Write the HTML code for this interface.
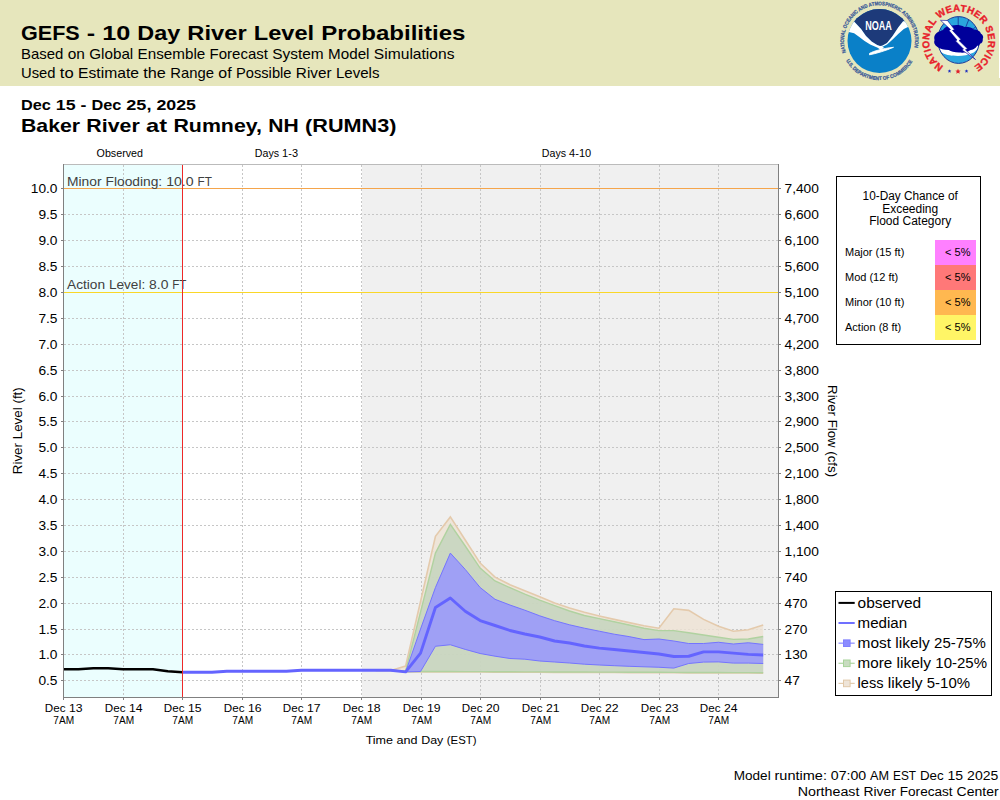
<!DOCTYPE html>
<html><head><meta charset="utf-8"><title>GEFS - 10 Day River Level Probabilities</title>
<style>html,body{margin:0;padding:0;background:#fff;} svg{display:block;} text{font-family:"Liberation Sans", sans-serif;}</style></head>
<body><svg width="1000" height="800" viewBox="0 0 1000 800">
<rect x="0" y="0" width="1000" height="86" fill="#E6E6BC"/>
<rect x="999" y="0" width="1" height="78" fill="#fff"/>
<text x="21.00" y="40.00" font-size="20.5" font-weight="bold" fill="#000" textLength="58.75" lengthAdjust="spacingAndGlyphs">GEFS</text>
<text x="86.79" y="40.00" font-size="20.5" font-weight="bold" fill="#000" textLength="8.39" lengthAdjust="spacingAndGlyphs">-</text>
<text x="102.21" y="40.00" font-size="20.5" font-weight="bold" fill="#000" textLength="28.12" lengthAdjust="spacingAndGlyphs">10</text>
<text x="137.37" y="40.00" font-size="20.5" font-weight="bold" fill="#000" textLength="42.97" lengthAdjust="spacingAndGlyphs">Day</text>
<text x="187.37" y="40.00" font-size="20.5" font-weight="bold" fill="#000" textLength="59.34" lengthAdjust="spacingAndGlyphs">River</text>
<text x="253.74" y="40.00" font-size="20.5" font-weight="bold" fill="#000" textLength="60.39" lengthAdjust="spacingAndGlyphs">Level</text>
<text x="321.16" y="40.00" font-size="20.5" font-weight="bold" fill="#000" textLength="144.34" lengthAdjust="spacingAndGlyphs">Probabilities</text>
<text x="21.00" y="59.00" font-size="14.2" font-weight="normal" fill="#000" textLength="42.32" lengthAdjust="spacingAndGlyphs">Based</text>
<text x="67.70" y="59.00" font-size="14.2" font-weight="normal" fill="#000" textLength="17.17" lengthAdjust="spacingAndGlyphs">on</text>
<text x="89.26" y="59.00" font-size="14.2" font-weight="normal" fill="#000" textLength="43.98" lengthAdjust="spacingAndGlyphs">Global</text>
<text x="137.62" y="59.00" font-size="14.2" font-weight="normal" fill="#000" textLength="67.61" lengthAdjust="spacingAndGlyphs">Ensemble</text>
<text x="209.60" y="59.00" font-size="14.2" font-weight="normal" fill="#000" textLength="58.33" lengthAdjust="spacingAndGlyphs">Forecast</text>
<text x="272.32" y="59.00" font-size="14.2" font-weight="normal" fill="#000" textLength="51.41" lengthAdjust="spacingAndGlyphs">System</text>
<text x="328.11" y="59.00" font-size="14.2" font-weight="normal" fill="#000" textLength="41.39" lengthAdjust="spacingAndGlyphs">Model</text>
<text x="373.89" y="59.00" font-size="14.2" font-weight="normal" fill="#000" textLength="80.61" lengthAdjust="spacingAndGlyphs">Simulations</text>
<text x="21.00" y="78.00" font-size="14.2" font-weight="normal" fill="#000" textLength="34.49" lengthAdjust="spacingAndGlyphs">Used</text>
<text x="59.87" y="78.00" font-size="14.2" font-weight="normal" fill="#000" textLength="13.83" lengthAdjust="spacingAndGlyphs">to</text>
<text x="78.08" y="78.00" font-size="14.2" font-weight="normal" fill="#000" textLength="60.86" lengthAdjust="spacingAndGlyphs">Estimate</text>
<text x="143.31" y="78.00" font-size="14.2" font-weight="normal" fill="#000" textLength="22.61" lengthAdjust="spacingAndGlyphs">the</text>
<text x="170.30" y="78.00" font-size="14.2" font-weight="normal" fill="#000" textLength="43.67" lengthAdjust="spacingAndGlyphs">Range</text>
<text x="218.35" y="78.00" font-size="14.2" font-weight="normal" fill="#000" textLength="13.28" lengthAdjust="spacingAndGlyphs">of</text>
<text x="236.01" y="78.00" font-size="14.2" font-weight="normal" fill="#000" textLength="55.48" lengthAdjust="spacingAndGlyphs">Possible</text>
<text x="295.87" y="78.00" font-size="14.2" font-weight="normal" fill="#000" textLength="35.70" lengthAdjust="spacingAndGlyphs">River</text>
<text x="335.95" y="78.00" font-size="14.2" font-weight="normal" fill="#000" textLength="43.55" lengthAdjust="spacingAndGlyphs">Levels</text>
<text x="21.00" y="110.00" font-size="14" font-weight="bold" fill="#000" textLength="29.89" lengthAdjust="spacingAndGlyphs">Dec</text>
<text x="55.84" y="110.00" font-size="14" font-weight="bold" fill="#000" textLength="19.79" lengthAdjust="spacingAndGlyphs">15</text>
<text x="80.58" y="110.00" font-size="14" font-weight="bold" fill="#000" textLength="5.90" lengthAdjust="spacingAndGlyphs">-</text>
<text x="91.43" y="110.00" font-size="14" font-weight="bold" fill="#000" textLength="29.89" lengthAdjust="spacingAndGlyphs">Dec</text>
<text x="126.27" y="110.00" font-size="14" font-weight="bold" fill="#000" textLength="25.19" lengthAdjust="spacingAndGlyphs">25,</text>
<text x="156.42" y="110.00" font-size="14" font-weight="bold" fill="#000" textLength="39.58" lengthAdjust="spacingAndGlyphs">2025</text>
<text x="21.00" y="132.00" font-size="18.5" font-weight="bold" fill="#000" textLength="59.06" lengthAdjust="spacingAndGlyphs">Baker</text>
<text x="86.39" y="132.00" font-size="18.5" font-weight="bold" fill="#000" textLength="53.41" lengthAdjust="spacingAndGlyphs">River</text>
<text x="146.14" y="132.00" font-size="18.5" font-weight="bold" fill="#000" textLength="20.97" lengthAdjust="spacingAndGlyphs">at</text>
<text x="173.44" y="132.00" font-size="18.5" font-weight="bold" fill="#000" textLength="88.56" lengthAdjust="spacingAndGlyphs">Rumney,</text>
<text x="268.33" y="132.00" font-size="18.5" font-weight="bold" fill="#000" textLength="30.45" lengthAdjust="spacingAndGlyphs">NH</text>
<text x="305.11" y="132.00" font-size="18.5" font-weight="bold" fill="#000" textLength="91.39" lengthAdjust="spacingAndGlyphs">(RUMN3)</text>
<defs>
<path id="noaaTop" d="M846.0,52.5 A35.5,35.5 0 1 1 913.0,52.5"/>
<path id="noaaBot" d="M843.8,56 A38.5,38.5 0 0 0 915.2,56"/>
<path id="nwsArc" d="M943.5,66.3 A29.5,29.5 0 1 1 973.45,66.55"/>
<clipPath id="noaaClip"><circle cx="879.5" cy="41" r="32"/></clipPath>
<clipPath id="nwsClip"><ellipse cx="958.6" cy="40" rx="20.8" ry="23.4"/></clipPath>
</defs>
<g id="noaa">
<g clip-path="url(#noaaClip)">
<rect x="845" y="5" width="70" height="72" fill="#0A80C8"/>
<path d="M845,5 H915 V21.3 L903.1,21.3 L898.2,27.6 L892.6,36 L887,43 L882.1,45.8 L880,46 L877.2,45.1 L871.6,41.6 L866,36 L861.1,29 L854.1,21.6 L845,21.6 Z" fill="#1D3A7A"/>
<path d="M845,21.6 L854.1,21.6 L861.1,29 L866,36 L871.6,41.6 L877.2,45.1 L880,46 L882.1,45.8 L887,43 L892.6,36 L898.2,27.6 L903.1,21.3 L915,21.3 L915,24 L908,26.9 L903.8,29 L898.2,33.9 L892.6,39.5 L887,44.4 L880,47.9 L876.5,47.2 L870.2,44.4 L864.6,40.9 L859,36.7 L854.1,33.2 L847.8,31.8 L845,31.5 Z" fill="#FFFFFF"/>
<path d="M869.5,53.4 C874,51 882,48.6 893.5,47.3 C886,50.6 876,53.6 869.5,54.8 Z" fill="#FFFFFF" stroke="#FFFFFF" stroke-width="0.9" stroke-linejoin="round"/>
<path d="M877,47 L881,50.5 L884,47 Z" fill="#FFFFFF"/>
</g>
<text font-size="12.5" font-weight="bold" fill="#fff" text-anchor="middle" x="878.6" y="29.7" textLength="26.6" lengthAdjust="spacingAndGlyphs">NOAA</text>
<text font-size="5.2" font-weight="bold" fill="#3A5A98" stroke="#3A5A98" stroke-width="0.25"><textPath href="#noaaTop" textLength="130" lengthAdjust="spacingAndGlyphs">NATIONAL OCEANIC AND ATMOSPHERIC ADMINISTRATION</textPath></text>
<text font-size="5.2" font-weight="bold" fill="#3A5A98" stroke="#3A5A98" stroke-width="0.25"><textPath href="#noaaBot" startOffset="5" textLength="80" lengthAdjust="spacingAndGlyphs">U.S. DEPARTMENT OF COMMERCE</textPath></text>
</g>
<g id="nws">
<ellipse cx="958.6" cy="40" rx="20.8" ry="23.4" fill="#2AA6DE"/>
<g clip-path="url(#nwsClip)">
<path d="M958.2,16 V26 M968.8,19.5 L966,26.5 M976,26.5 L971.5,30.5 M941,30 L946,31.5 M947.5,21 L950,28" stroke="#1A3A9A" stroke-width="0.9" fill="none"/>
<path d="M936,46 C938,52 946,56 953,55.6 C958,56.5 967,56 973.75,52.5 C977,50 979,47 980,44 L980,40 L936,40 Z" fill="#FFFFFF"/>
</g>
<ellipse cx="958.6" cy="40" rx="20.8" ry="23.4" fill="none" stroke="#1A3A9A" stroke-width="1"/>
<path d="M934.5,40 C933,35 937,31.5 942.5,30.6 C945,26.5 949,25 952,25.6 C956,24.5 961,25 964.4,26.9 C968,26.5 972,27.5 973.75,29.4 C977,29.5 980.5,31 981,33.75 C983.5,35 983.5,38 982.8,38.75 C983,41.5 982,43.5 980,43.75 C979,46 978,46.5 977.5,45.5 C975,49 972.5,50 970.6,50 C967,52.5 963,53 961,52.5 C956,53 951,51.5 948.75,50 C944,50 940,48.5 937.5,46.9 C934.5,45.5 933.5,42.5 934.5,40 Z" fill="#00009A"/>
<path d="M940.5,20.3 L947.5,20.5 L954.5,29.5 L952.5,30.5 L961,39.5 L959,40.5 L967.5,48.8 L965.5,49.8 L975.5,59.5 L962,50 L963.5,49 L955.5,41 L957,40 L949,30.5 L950.5,29.5 Z" fill="#FFFFFF" stroke="#00009A" stroke-width="0.6" stroke-linejoin="miter"/>
<text font-size="9.8" font-weight="bold" fill="#E8202A" stroke="#E8202A" stroke-width="0.35"><textPath href="#nwsArc" textLength="153" lengthAdjust="spacing">NATIONAL WEATHER SERVICE</textPath></text>
<path d="M949.5,69.3 l0.55,1.2 1.3,0.1 -1,0.85 0.3,1.3 -1.15,-0.7 -1.15,0.7 0.3,-1.3 -1,-0.85 1.3,-0.1 z" fill="#2030C0"/>
<path d="M966.5,69.3 l0.55,1.2 1.3,0.1 -1,0.85 0.3,1.3 -1.15,-0.7 -1.15,0.7 0.3,-1.3 -1,-0.85 1.3,-0.1 z" fill="#2030C0"/>
<path d="M958,68.8 l0.8,1.7 1.9,0.15 -1.45,1.2 0.45,1.85 -1.7,-1 -1.7,1 0.45,-1.85 -1.45,-1.2 1.9,-0.15 z" fill="#E0202A"/>
</g>

<rect x="63" y="164" width="119" height="533" fill="#EBFEFE"/>
<rect x="182" y="164" width="180" height="533" fill="#FFFFFF"/>
<rect x="362" y="164" width="416" height="533" fill="#F0F0F0"/>
<path d="M123.5,165V697M182.5,165V697M242.5,165V697M301.5,165V697M361.5,165V697M421.5,165V697M480.5,165V697M540.5,165V697M599.5,165V697M659.5,165V697M718.5,165V697M64,188.5H778M64,214.5H778M64,240.5H778M64,266.5H778M64,292.5H778M64,318.5H778M64,344.5H778M64,370.5H778M64,396.5H778M64,421.5H778M64,447.5H778M64,473.5H778M64,499.5H778M64,525.5H778M64,551.5H778M64,577.5H778M64,603.5H778M64,629.5H778M64,654.5H778M64,680.5H778" stroke="#C6C6C6" stroke-width="1" stroke-dasharray="2,2" fill="none"/>
<polygon points="375.85,670.50 390.75,670.50 405.64,666.00 420.54,601.50 435.44,536.25 450.34,516.90 465.23,540.00 480.13,563.10 495.03,577.20 509.93,584.70 524.82,590.70 539.72,596.70 554.62,603.00 569.52,608.00 584.41,612.30 599.31,616.00 614.21,619.40 629.11,622.60 644.00,625.80 658.90,628.20 673.80,608.80 688.70,610.40 703.59,619.40 718.49,626.25 733.39,631.25 748.29,629.75 763.18,625.00 763.18,673.10 748.29,673.05 733.39,672.99 718.49,672.94 703.59,672.88 688.70,672.83 673.80,672.77 658.90,672.72 644.00,672.66 629.11,672.61 614.21,672.55 599.31,672.50 584.41,672.45 569.52,672.39 554.62,672.34 539.72,672.28 524.82,672.23 509.93,672.17 495.03,672.12 480.13,672.06 465.23,672.01 450.34,671.95 435.44,671.90 420.54,672.00 405.64,671.90 390.75,670.50 375.85,670.50" fill="#EEE2D3" fill-opacity="0.8" stroke="none"/>
<polyline points="375.85,670.50 390.75,670.50 405.64,666.00 420.54,601.50 435.44,536.25 450.34,516.90 465.23,540.00 480.13,563.10 495.03,577.20 509.93,584.70 524.82,590.70 539.72,596.70 554.62,603.00 569.52,608.00 584.41,612.30 599.31,616.00 614.21,619.40 629.11,622.60 644.00,625.80 658.90,628.20 673.80,608.80 688.70,610.40 703.59,619.40 718.49,626.25 733.39,631.25 748.29,629.75 763.18,625.00" fill="none" stroke="#E4CAAC" stroke-width="1.6"/>
<polyline points="375.85,670.50 390.75,670.50 405.64,671.90 420.54,672.00 435.44,671.90 450.34,671.95 465.23,672.01 480.13,672.06 495.03,672.12 509.93,672.17 524.82,672.23 539.72,672.28 554.62,672.34 569.52,672.39 584.41,672.45 599.31,672.50 614.21,672.55 629.11,672.61 644.00,672.66 658.90,672.72 673.80,672.77 688.70,672.83 703.59,672.88 718.49,672.94 733.39,672.99 748.29,673.05 763.18,673.10" fill="none" stroke="#E4CAAC" stroke-width="1.6"/>
<polygon points="390.75,670.50 405.64,671.00 420.54,612.00 435.44,553.10 450.34,524.40 465.23,546.00 480.13,568.10 495.03,581.00 509.93,587.70 524.82,594.20 539.72,600.20 554.62,605.70 569.52,611.00 584.41,615.50 599.31,618.60 614.21,621.80 629.11,625.00 644.00,628.20 658.90,630.60 673.80,630.60 688.70,632.80 703.59,635.00 718.49,637.25 733.39,639.40 748.29,639.00 763.18,636.50 763.18,672.70 748.29,672.65 733.39,672.59 718.49,672.54 703.59,672.48 688.70,672.43 673.80,672.37 658.90,672.32 644.00,672.26 629.11,672.21 614.21,672.15 599.31,672.10 584.41,672.05 569.52,671.99 554.62,671.94 539.72,671.88 524.82,671.83 509.93,671.77 495.03,671.72 480.13,671.66 465.23,671.61 450.34,671.55 435.44,671.50 420.54,671.50 405.64,671.50 390.75,670.50" fill="#BFD2B9" fill-opacity="0.75" stroke="none"/>
<polyline points="390.75,670.50 405.64,671.00 420.54,612.00 435.44,553.10 450.34,524.40 465.23,546.00 480.13,568.10 495.03,581.00 509.93,587.70 524.82,594.20 539.72,600.20 554.62,605.70 569.52,611.00 584.41,615.50 599.31,618.60 614.21,621.80 629.11,625.00 644.00,628.20 658.90,630.60 673.80,630.60 688.70,632.80 703.59,635.00 718.49,637.25 733.39,639.40 748.29,639.00 763.18,636.50" fill="none" stroke="#B0D2A0" stroke-width="1.4"/>
<polyline points="390.75,670.50 405.64,671.50 420.54,671.50 435.44,671.50 450.34,671.55 465.23,671.61 480.13,671.66 495.03,671.72 509.93,671.77 524.82,671.83 539.72,671.88 554.62,671.94 569.52,671.99 584.41,672.05 599.31,672.10 614.21,672.15 629.11,672.21 644.00,672.26 658.90,672.32 673.80,672.37 688.70,672.43 703.59,672.48 718.49,672.54 733.39,672.59 748.29,672.65 763.18,672.70" fill="none" stroke="#B0D2A0" stroke-width="1.4"/>
<polygon points="405.64,671.90 420.54,629.00 435.44,587.50 450.34,553.10 465.23,569.40 480.13,587.50 495.03,599.30 509.93,605.00 524.82,610.20 539.72,615.80 554.62,620.70 569.52,624.80 584.41,628.20 599.31,631.20 614.21,634.20 629.11,636.60 644.00,639.60 658.90,639.00 673.80,641.00 688.70,643.50 703.59,643.50 718.49,642.25 733.39,644.00 748.29,642.75 763.18,644.40 763.18,663.50 748.29,663.10 733.39,663.10 718.49,661.90 703.59,662.10 688.70,663.50 673.80,668.10 658.90,667.25 644.00,666.80 629.11,666.30 614.21,665.70 599.31,665.00 584.41,664.20 569.52,663.00 554.62,662.00 539.72,661.00 524.82,659.20 509.93,658.50 495.03,656.20 480.13,653.50 465.23,649.40 450.34,644.75 435.44,646.25 420.54,671.50 405.64,671.90" fill="#9896FE" fill-opacity="0.85" stroke="none"/>
<polyline points="405.64,671.90 420.54,629.00 435.44,587.50 450.34,553.10 465.23,569.40 480.13,587.50 495.03,599.30 509.93,605.00 524.82,610.20 539.72,615.80 554.62,620.70 569.52,624.80 584.41,628.20 599.31,631.20 614.21,634.20 629.11,636.60 644.00,639.60 658.90,639.00 673.80,641.00 688.70,643.50 703.59,643.50 718.49,642.25 733.39,644.00 748.29,642.75 763.18,644.40" fill="none" stroke="#7474FF" stroke-width="1.0"/>
<polyline points="405.64,671.90 420.54,671.50 435.44,646.25 450.34,644.75 465.23,649.40 480.13,653.50 495.03,656.20 509.93,658.50 524.82,659.20 539.72,661.00 554.62,662.00 569.52,663.00 584.41,664.20 599.31,665.00 614.21,665.70 629.11,666.30 644.00,666.80 658.90,667.25 673.80,668.10 688.70,663.50 703.59,662.10 718.49,661.90 733.39,663.10 748.29,663.10 763.18,663.50" fill="none" stroke="#7474FF" stroke-width="1.0"/>
<polyline points="182.18,672.30 197.08,672.30 211.98,672.30 226.87,671.20 241.77,671.20 256.67,671.20 271.56,671.20 286.46,671.20 301.36,670.30 316.26,670.30 331.16,670.30 346.05,670.30 360.95,670.30 375.85,670.30 390.75,670.30 405.64,671.90 420.54,653.10 435.44,607.50 450.34,598.00 465.23,611.25 480.13,620.60 495.03,625.50 509.93,630.50 524.82,634.00 539.72,637.00 554.62,641.00 569.52,643.00 584.41,646.00 599.31,648.10 614.21,649.50 629.11,651.00 644.00,652.50 658.90,654.00 673.80,656.50 688.70,656.25 703.59,651.90 718.49,651.90 733.39,653.10 748.29,654.40 763.18,655.00" fill="none" stroke="#6464FF" stroke-width="2.9" stroke-linejoin="round"/>
<polyline points="63.5,669.3 78.4,669.3 93.3,668.3 108.2,668.3 123.1,669.3 138.0,669.3 152.9,669.3 167.8,671.3 182.5,672.3" fill="none" stroke="#000" stroke-width="2.6" stroke-linejoin="round"/>
<rect x="63" y="188" width="715" height="1" fill="#F5A54B"/>
<rect x="63" y="292" width="715" height="1" fill="#FAD728"/>
<text x="67.00" y="185.80" font-size="12.5" font-weight="normal" fill="#404040" textLength="34.55" lengthAdjust="spacingAndGlyphs">Minor</text>
<text x="105.47" y="185.80" font-size="12.5" font-weight="normal" fill="#404040" textLength="56.75" lengthAdjust="spacingAndGlyphs">Flooding:</text>
<text x="166.15" y="185.80" font-size="12.5" font-weight="normal" fill="#404040" textLength="27.50" lengthAdjust="spacingAndGlyphs">10.0</text>
<text x="197.57" y="185.80" font-size="12.5" font-weight="normal" fill="#404040" textLength="14.43" lengthAdjust="spacingAndGlyphs">FT</text>
<text x="67.00" y="289.40" font-size="12.5" font-weight="normal" fill="#404040" textLength="38.11" lengthAdjust="spacingAndGlyphs">Action</text>
<text x="108.98" y="289.40" font-size="12.5" font-weight="normal" fill="#404040" textLength="36.22" lengthAdjust="spacingAndGlyphs">Level:</text>
<text x="149.06" y="289.40" font-size="12.5" font-weight="normal" fill="#404040" textLength="19.35" lengthAdjust="spacingAndGlyphs">8.0</text>
<text x="172.28" y="289.40" font-size="12.5" font-weight="normal" fill="#404040" textLength="14.22" lengthAdjust="spacingAndGlyphs">FT</text>
<rect x="182" y="165" width="1" height="532" fill="#EE2828"/>
<rect x="63" y="164" width="716" height="1" fill="#BBBBBB"/>
<rect x="63" y="164" width="1" height="534" fill="#808080"/>
<rect x="778" y="164" width="1" height="534" fill="#808080"/>
<rect x="63" y="697" width="716" height="1" fill="#808080"/>
<path d="M61,188.5H63M779,188.5H781M61,214.5H63M779,214.5H781M61,240.5H63M779,240.5H781M61,266.5H63M779,266.5H781M61,292.5H63M779,292.5H781M61,318.5H63M779,318.5H781M61,344.5H63M779,344.5H781M61,370.5H63M779,370.5H781M61,396.5H63M779,396.5H781M61,421.5H63M779,421.5H781M61,447.5H63M779,447.5H781M61,473.5H63M779,473.5H781M61,499.5H63M779,499.5H781M61,525.5H63M779,525.5H781M61,551.5H63M779,551.5H781M61,577.5H63M779,577.5H781M61,603.5H63M779,603.5H781M61,629.5H63M779,629.5H781M61,654.5H63M779,654.5H781M61,680.5H63M779,680.5H781M63.5,698V700M123.5,698V700M182.5,698V700M242.5,698V700M301.5,698V700M361.5,698V700M421.5,698V700M480.5,698V700M540.5,698V700M599.5,698V700M659.5,698V700M718.5,698V700" stroke="#808080" stroke-width="1" fill="none"/>
<text x="57.50" y="192.50" font-size="12" font-weight="normal" fill="#000" text-anchor="end" textLength="26.70" lengthAdjust="spacingAndGlyphs" >10.0</text>
<text x="57.50" y="218.50" font-size="12" font-weight="normal" fill="#000" text-anchor="end" textLength="19.10" lengthAdjust="spacingAndGlyphs" >9.5</text>
<text x="57.50" y="244.50" font-size="12" font-weight="normal" fill="#000" text-anchor="end" textLength="19.10" lengthAdjust="spacingAndGlyphs" >9.0</text>
<text x="57.50" y="270.50" font-size="12" font-weight="normal" fill="#000" text-anchor="end" textLength="19.10" lengthAdjust="spacingAndGlyphs" >8.5</text>
<text x="57.50" y="296.50" font-size="12" font-weight="normal" fill="#000" text-anchor="end" textLength="19.10" lengthAdjust="spacingAndGlyphs" >8.0</text>
<text x="57.50" y="322.50" font-size="12" font-weight="normal" fill="#000" text-anchor="end" textLength="19.10" lengthAdjust="spacingAndGlyphs" >7.5</text>
<text x="57.50" y="348.50" font-size="12" font-weight="normal" fill="#000" text-anchor="end" textLength="19.10" lengthAdjust="spacingAndGlyphs" >7.0</text>
<text x="57.50" y="374.50" font-size="12" font-weight="normal" fill="#000" text-anchor="end" textLength="19.10" lengthAdjust="spacingAndGlyphs" >6.5</text>
<text x="57.50" y="400.50" font-size="12" font-weight="normal" fill="#000" text-anchor="end" textLength="19.10" lengthAdjust="spacingAndGlyphs" >6.0</text>
<text x="57.50" y="425.50" font-size="12" font-weight="normal" fill="#000" text-anchor="end" textLength="19.10" lengthAdjust="spacingAndGlyphs" >5.5</text>
<text x="57.50" y="451.50" font-size="12" font-weight="normal" fill="#000" text-anchor="end" textLength="19.10" lengthAdjust="spacingAndGlyphs" >5.0</text>
<text x="57.50" y="477.50" font-size="12" font-weight="normal" fill="#000" text-anchor="end" textLength="19.10" lengthAdjust="spacingAndGlyphs" >4.5</text>
<text x="57.50" y="503.50" font-size="12" font-weight="normal" fill="#000" text-anchor="end" textLength="19.10" lengthAdjust="spacingAndGlyphs" >4.0</text>
<text x="57.50" y="529.50" font-size="12" font-weight="normal" fill="#000" text-anchor="end" textLength="19.10" lengthAdjust="spacingAndGlyphs" >3.5</text>
<text x="57.50" y="555.50" font-size="12" font-weight="normal" fill="#000" text-anchor="end" textLength="19.10" lengthAdjust="spacingAndGlyphs" >3.0</text>
<text x="57.50" y="581.50" font-size="12" font-weight="normal" fill="#000" text-anchor="end" textLength="19.10" lengthAdjust="spacingAndGlyphs" >2.5</text>
<text x="57.50" y="607.50" font-size="12" font-weight="normal" fill="#000" text-anchor="end" textLength="19.10" lengthAdjust="spacingAndGlyphs" >2.0</text>
<text x="57.50" y="633.50" font-size="12" font-weight="normal" fill="#000" text-anchor="end" textLength="19.10" lengthAdjust="spacingAndGlyphs" >1.5</text>
<text x="57.50" y="658.50" font-size="12" font-weight="normal" fill="#000" text-anchor="end" textLength="19.10" lengthAdjust="spacingAndGlyphs" >1.0</text>
<text x="57.50" y="684.50" font-size="12" font-weight="normal" fill="#000" text-anchor="end" textLength="19.10" lengthAdjust="spacingAndGlyphs" >0.5</text>
<text x="784.50" y="192.50" font-size="12" font-weight="normal" fill="#000" text-anchor="start" textLength="34.40" lengthAdjust="spacingAndGlyphs" >7,400</text>
<text x="784.50" y="218.50" font-size="12" font-weight="normal" fill="#000" text-anchor="start" textLength="34.40" lengthAdjust="spacingAndGlyphs" >6,600</text>
<text x="784.50" y="244.50" font-size="12" font-weight="normal" fill="#000" text-anchor="start" textLength="34.40" lengthAdjust="spacingAndGlyphs" >6,100</text>
<text x="784.50" y="270.50" font-size="12" font-weight="normal" fill="#000" text-anchor="start" textLength="34.40" lengthAdjust="spacingAndGlyphs" >5,600</text>
<text x="784.50" y="296.50" font-size="12" font-weight="normal" fill="#000" text-anchor="start" textLength="34.40" lengthAdjust="spacingAndGlyphs" >5,100</text>
<text x="784.50" y="322.50" font-size="12" font-weight="normal" fill="#000" text-anchor="start" textLength="34.40" lengthAdjust="spacingAndGlyphs" >4,700</text>
<text x="784.50" y="348.50" font-size="12" font-weight="normal" fill="#000" text-anchor="start" textLength="34.40" lengthAdjust="spacingAndGlyphs" >4,200</text>
<text x="784.50" y="374.50" font-size="12" font-weight="normal" fill="#000" text-anchor="start" textLength="34.40" lengthAdjust="spacingAndGlyphs" >3,800</text>
<text x="784.50" y="400.50" font-size="12" font-weight="normal" fill="#000" text-anchor="start" textLength="34.40" lengthAdjust="spacingAndGlyphs" >3,300</text>
<text x="784.50" y="425.50" font-size="12" font-weight="normal" fill="#000" text-anchor="start" textLength="34.40" lengthAdjust="spacingAndGlyphs" >2,900</text>
<text x="784.50" y="451.50" font-size="12" font-weight="normal" fill="#000" text-anchor="start" textLength="34.40" lengthAdjust="spacingAndGlyphs" >2,500</text>
<text x="784.50" y="477.50" font-size="12" font-weight="normal" fill="#000" text-anchor="start" textLength="34.40" lengthAdjust="spacingAndGlyphs" >2,100</text>
<text x="784.50" y="503.50" font-size="12" font-weight="normal" fill="#000" text-anchor="start" textLength="34.40" lengthAdjust="spacingAndGlyphs" >1,800</text>
<text x="784.50" y="529.50" font-size="12" font-weight="normal" fill="#000" text-anchor="start" textLength="34.40" lengthAdjust="spacingAndGlyphs" >1,400</text>
<text x="784.50" y="555.50" font-size="12" font-weight="normal" fill="#000" text-anchor="start" textLength="34.40" lengthAdjust="spacingAndGlyphs" >1,100</text>
<text x="784.50" y="581.50" font-size="12" font-weight="normal" fill="#000" text-anchor="start" textLength="22.90" lengthAdjust="spacingAndGlyphs" >740</text>
<text x="784.50" y="607.50" font-size="12" font-weight="normal" fill="#000" text-anchor="start" textLength="22.90" lengthAdjust="spacingAndGlyphs" >470</text>
<text x="784.50" y="633.50" font-size="12" font-weight="normal" fill="#000" text-anchor="start" textLength="22.90" lengthAdjust="spacingAndGlyphs" >270</text>
<text x="784.50" y="658.50" font-size="12" font-weight="normal" fill="#000" text-anchor="start" textLength="22.90" lengthAdjust="spacingAndGlyphs" >130</text>
<text x="784.50" y="684.50" font-size="12" font-weight="normal" fill="#000" text-anchor="start" textLength="15.30" lengthAdjust="spacingAndGlyphs" >47</text>
<text x="0" y="0" font-size="12" textLength="87" lengthAdjust="spacingAndGlyphs" text-anchor="middle" transform="translate(22.3,430.7) rotate(-90)">River Level (ft)</text>
<text x="0" y="0" font-size="12" textLength="92" lengthAdjust="spacingAndGlyphs" text-anchor="middle" transform="translate(828.3,431.1) rotate(90)">River Flow (cfs)</text>
<text x="44.85" y="711.50" font-size="11" font-weight="normal" fill="#000" textLength="20.69" lengthAdjust="spacingAndGlyphs">Dec</text>
<text x="68.94" y="711.50" font-size="11" font-weight="normal" fill="#000" textLength="13.61" lengthAdjust="spacingAndGlyphs">13</text>
<text x="63.70" y="723.80" font-size="11" font-weight="normal" fill="#000" text-anchor="middle" textLength="20.80" lengthAdjust="spacingAndGlyphs" >7AM</text>
<text x="104.85" y="711.50" font-size="11" font-weight="normal" fill="#000" textLength="20.69" lengthAdjust="spacingAndGlyphs">Dec</text>
<text x="128.94" y="711.50" font-size="11" font-weight="normal" fill="#000" textLength="13.61" lengthAdjust="spacingAndGlyphs">14</text>
<text x="123.70" y="723.80" font-size="11" font-weight="normal" fill="#000" text-anchor="middle" textLength="20.80" lengthAdjust="spacingAndGlyphs" >7AM</text>
<text x="163.85" y="711.50" font-size="11" font-weight="normal" fill="#000" textLength="20.69" lengthAdjust="spacingAndGlyphs">Dec</text>
<text x="187.94" y="711.50" font-size="11" font-weight="normal" fill="#000" textLength="13.61" lengthAdjust="spacingAndGlyphs">15</text>
<text x="182.70" y="723.80" font-size="11" font-weight="normal" fill="#000" text-anchor="middle" textLength="20.80" lengthAdjust="spacingAndGlyphs" >7AM</text>
<text x="223.85" y="711.50" font-size="11" font-weight="normal" fill="#000" textLength="20.69" lengthAdjust="spacingAndGlyphs">Dec</text>
<text x="247.94" y="711.50" font-size="11" font-weight="normal" fill="#000" textLength="13.61" lengthAdjust="spacingAndGlyphs">16</text>
<text x="242.70" y="723.80" font-size="11" font-weight="normal" fill="#000" text-anchor="middle" textLength="20.80" lengthAdjust="spacingAndGlyphs" >7AM</text>
<text x="282.85" y="711.50" font-size="11" font-weight="normal" fill="#000" textLength="20.69" lengthAdjust="spacingAndGlyphs">Dec</text>
<text x="306.94" y="711.50" font-size="11" font-weight="normal" fill="#000" textLength="13.61" lengthAdjust="spacingAndGlyphs">17</text>
<text x="301.70" y="723.80" font-size="11" font-weight="normal" fill="#000" text-anchor="middle" textLength="20.80" lengthAdjust="spacingAndGlyphs" >7AM</text>
<text x="342.85" y="711.50" font-size="11" font-weight="normal" fill="#000" textLength="20.69" lengthAdjust="spacingAndGlyphs">Dec</text>
<text x="366.94" y="711.50" font-size="11" font-weight="normal" fill="#000" textLength="13.61" lengthAdjust="spacingAndGlyphs">18</text>
<text x="361.70" y="723.80" font-size="11" font-weight="normal" fill="#000" text-anchor="middle" textLength="20.80" lengthAdjust="spacingAndGlyphs" >7AM</text>
<text x="402.85" y="711.50" font-size="11" font-weight="normal" fill="#000" textLength="20.69" lengthAdjust="spacingAndGlyphs">Dec</text>
<text x="426.94" y="711.50" font-size="11" font-weight="normal" fill="#000" textLength="13.61" lengthAdjust="spacingAndGlyphs">19</text>
<text x="421.70" y="723.80" font-size="11" font-weight="normal" fill="#000" text-anchor="middle" textLength="20.80" lengthAdjust="spacingAndGlyphs" >7AM</text>
<text x="461.85" y="711.50" font-size="11" font-weight="normal" fill="#000" textLength="20.69" lengthAdjust="spacingAndGlyphs">Dec</text>
<text x="485.94" y="711.50" font-size="11" font-weight="normal" fill="#000" textLength="13.61" lengthAdjust="spacingAndGlyphs">20</text>
<text x="480.70" y="723.80" font-size="11" font-weight="normal" fill="#000" text-anchor="middle" textLength="20.80" lengthAdjust="spacingAndGlyphs" >7AM</text>
<text x="521.85" y="711.50" font-size="11" font-weight="normal" fill="#000" textLength="20.69" lengthAdjust="spacingAndGlyphs">Dec</text>
<text x="545.94" y="711.50" font-size="11" font-weight="normal" fill="#000" textLength="13.61" lengthAdjust="spacingAndGlyphs">21</text>
<text x="540.70" y="723.80" font-size="11" font-weight="normal" fill="#000" text-anchor="middle" textLength="20.80" lengthAdjust="spacingAndGlyphs" >7AM</text>
<text x="580.85" y="711.50" font-size="11" font-weight="normal" fill="#000" textLength="20.69" lengthAdjust="spacingAndGlyphs">Dec</text>
<text x="604.94" y="711.50" font-size="11" font-weight="normal" fill="#000" textLength="13.61" lengthAdjust="spacingAndGlyphs">22</text>
<text x="599.70" y="723.80" font-size="11" font-weight="normal" fill="#000" text-anchor="middle" textLength="20.80" lengthAdjust="spacingAndGlyphs" >7AM</text>
<text x="640.85" y="711.50" font-size="11" font-weight="normal" fill="#000" textLength="20.69" lengthAdjust="spacingAndGlyphs">Dec</text>
<text x="664.94" y="711.50" font-size="11" font-weight="normal" fill="#000" textLength="13.61" lengthAdjust="spacingAndGlyphs">23</text>
<text x="659.70" y="723.80" font-size="11" font-weight="normal" fill="#000" text-anchor="middle" textLength="20.80" lengthAdjust="spacingAndGlyphs" >7AM</text>
<text x="699.85" y="711.50" font-size="11" font-weight="normal" fill="#000" textLength="20.69" lengthAdjust="spacingAndGlyphs">Dec</text>
<text x="723.94" y="711.50" font-size="11" font-weight="normal" fill="#000" textLength="13.61" lengthAdjust="spacingAndGlyphs">24</text>
<text x="718.70" y="723.80" font-size="11" font-weight="normal" fill="#000" text-anchor="middle" textLength="20.80" lengthAdjust="spacingAndGlyphs" >7AM</text>
<text x="365.65" y="743.90" font-size="11.3" font-weight="normal" fill="#000" textLength="27.37" lengthAdjust="spacingAndGlyphs">Time</text>
<text x="396.58" y="743.90" font-size="11.3" font-weight="normal" fill="#000" textLength="21.04" lengthAdjust="spacingAndGlyphs">and</text>
<text x="421.18" y="743.90" font-size="11.3" font-weight="normal" fill="#000" textLength="22.09" lengthAdjust="spacingAndGlyphs">Day</text>
<text x="446.82" y="743.90" font-size="11.3" font-weight="normal" fill="#000" textLength="29.73" lengthAdjust="spacingAndGlyphs">(EST)</text>
<text x="96.60" y="157.00" font-size="10.3" font-weight="normal" fill="#000" text-anchor="start" textLength="46.40" lengthAdjust="spacingAndGlyphs" >Observed</text>
<text x="254.80" y="157.00" font-size="10.3" font-weight="normal" fill="#000" textLength="24.25" lengthAdjust="spacingAndGlyphs">Days</text>
<text x="282.13" y="157.00" font-size="10.3" font-weight="normal" fill="#000" textLength="15.87" lengthAdjust="spacingAndGlyphs">1-3</text>
<text x="541.80" y="157.00" font-size="10.3" font-weight="normal" fill="#000" textLength="24.25" lengthAdjust="spacingAndGlyphs">Days</text>
<text x="569.14" y="157.00" font-size="10.3" font-weight="normal" fill="#000" textLength="22.06" lengthAdjust="spacingAndGlyphs">4-10</text>
<rect x="836.5" y="176.5" width="144" height="168" fill="#fff" stroke="#000" stroke-width="1"/>
<text x="910.20" y="199.90" font-size="12" font-weight="normal" fill="#000" text-anchor="middle" textLength="95.20" lengthAdjust="spacingAndGlyphs" >10-Day Chance of</text>
<text x="910.20" y="212.75" font-size="12" font-weight="normal" fill="#000" text-anchor="middle" >Exceeding</text>
<text x="910.20" y="225.40" font-size="12" font-weight="normal" fill="#000" text-anchor="middle" >Flood Category</text>
<rect x="935" y="240" width="41" height="25" fill="#FF80FF"/>
<text x="845.00" y="256.00" font-size="11" font-weight="normal" fill="#000" text-anchor="start" >Major (15 ft)</text>
<text x="970.50" y="256.00" font-size="11" font-weight="normal" fill="#000" text-anchor="end" >&lt; 5%</text>
<rect x="935" y="265" width="41" height="25" fill="#FF7878"/>
<text x="845.00" y="281.00" font-size="11" font-weight="normal" fill="#000" text-anchor="start" >Mod (12 ft)</text>
<text x="970.50" y="281.00" font-size="11" font-weight="normal" fill="#000" text-anchor="end" >&lt; 5%</text>
<rect x="935" y="290" width="41" height="25" fill="#FFB850"/>
<text x="845.00" y="306.00" font-size="11" font-weight="normal" fill="#000" text-anchor="start" >Minor (10 ft)</text>
<text x="970.50" y="306.00" font-size="11" font-weight="normal" fill="#000" text-anchor="end" >&lt; 5%</text>
<rect x="935" y="315" width="41" height="25" fill="#FFF566"/>
<text x="845.00" y="331.00" font-size="11" font-weight="normal" fill="#000" text-anchor="start" >Action (8 ft)</text>
<text x="970.50" y="331.00" font-size="11" font-weight="normal" fill="#000" text-anchor="end" >&lt; 5%</text>
<rect x="835.5" y="591.5" width="156" height="104" fill="#fff" stroke="#000" stroke-width="1"/>
<rect x="838.5" y="601.9" width="16.2" height="2" fill="#000"/>
<text x="857.60" y="607.70" font-size="14" font-weight="normal" fill="#000" textLength="63.60" lengthAdjust="spacingAndGlyphs">observed</text>
<rect x="838.5" y="622.0" width="16.2" height="2" fill="#7070FF"/>
<text x="857.60" y="627.80" font-size="14" font-weight="normal" fill="#000" textLength="49.60" lengthAdjust="spacingAndGlyphs">median</text>
<rect x="838.5" y="642.6" width="16.2" height="1.1" fill="#8080FF"/>
<rect x="843.5" y="639.9" width="6.6" height="6.6" fill="#8C8CFF" stroke="#8080FF" stroke-width="1"/>
<text x="857.60" y="647.90" font-size="14" font-weight="normal" fill="#000" textLength="33.43" lengthAdjust="spacingAndGlyphs">most</text>
<text x="895.29" y="647.90" font-size="14" font-weight="normal" fill="#000" textLength="34.57" lengthAdjust="spacingAndGlyphs">likely</text>
<text x="934.11" y="647.90" font-size="14" font-weight="normal" fill="#000" textLength="51.59" lengthAdjust="spacingAndGlyphs">25-75%</text>
<rect x="838.5" y="662.7" width="16.2" height="1.1" fill="#A8D39A"/>
<rect x="843.5" y="660.0" width="6.6" height="6.6" fill="#C8DCC0" stroke="#A8D39A" stroke-width="1"/>
<text x="857.60" y="668.00" font-size="14" font-weight="normal" fill="#000" textLength="34.68" lengthAdjust="spacingAndGlyphs">more</text>
<text x="896.53" y="668.00" font-size="14" font-weight="normal" fill="#000" textLength="34.59" lengthAdjust="spacingAndGlyphs">likely</text>
<text x="935.38" y="668.00" font-size="14" font-weight="normal" fill="#000" textLength="51.62" lengthAdjust="spacingAndGlyphs">10-25%</text>
<rect x="838.5" y="682.8" width="16.2" height="1.1" fill="#E0C8A8"/>
<rect x="843.5" y="680.1" width="6.6" height="6.6" fill="#EEE4D8" stroke="#E0C8A8" stroke-width="1"/>
<text x="857.60" y="688.10" font-size="14" font-weight="normal" fill="#000" textLength="25.97" lengthAdjust="spacingAndGlyphs">less</text>
<text x="887.84" y="688.10" font-size="14" font-weight="normal" fill="#000" textLength="34.68" lengthAdjust="spacingAndGlyphs">likely</text>
<text x="926.79" y="688.10" font-size="14" font-weight="normal" fill="#000" textLength="43.21" lengthAdjust="spacingAndGlyphs">5-10%</text>
<text x="733.80" y="779.70" font-size="12.5" font-weight="normal" fill="#000" textLength="36.84" lengthAdjust="spacingAndGlyphs">Model</text>
<text x="774.53" y="779.70" font-size="12.5" font-weight="normal" fill="#000" textLength="52.44" lengthAdjust="spacingAndGlyphs">runtime:</text>
<text x="830.87" y="779.70" font-size="12.5" font-weight="normal" fill="#000" textLength="35.35" lengthAdjust="spacingAndGlyphs">07:00</text>
<text x="870.13" y="779.70" font-size="12.5" font-weight="normal" fill="#000" textLength="18.98" lengthAdjust="spacingAndGlyphs">AM</text>
<text x="893.00" y="779.70" font-size="12.5" font-weight="normal" fill="#000" textLength="23.03" lengthAdjust="spacingAndGlyphs">EST</text>
<text x="919.93" y="779.70" font-size="12.5" font-weight="normal" fill="#000" textLength="23.74" lengthAdjust="spacingAndGlyphs">Dec</text>
<text x="947.57" y="779.70" font-size="12.5" font-weight="normal" fill="#000" textLength="15.61" lengthAdjust="spacingAndGlyphs">15</text>
<text x="967.08" y="779.70" font-size="12.5" font-weight="normal" fill="#000" textLength="31.22" lengthAdjust="spacingAndGlyphs">2025</text>
<text x="797.70" y="795.70" font-size="12.5" font-weight="normal" fill="#000" textLength="61.73" lengthAdjust="spacingAndGlyphs">Northeast</text>
<text x="863.40" y="795.70" font-size="12.5" font-weight="normal" fill="#000" textLength="32.39" lengthAdjust="spacingAndGlyphs">River</text>
<text x="899.76" y="795.70" font-size="12.5" font-weight="normal" fill="#000" textLength="52.89" lengthAdjust="spacingAndGlyphs">Forecast</text>
<text x="956.63" y="795.70" font-size="12.5" font-weight="normal" fill="#000" textLength="42.07" lengthAdjust="spacingAndGlyphs">Center</text>
</svg></body></html>
